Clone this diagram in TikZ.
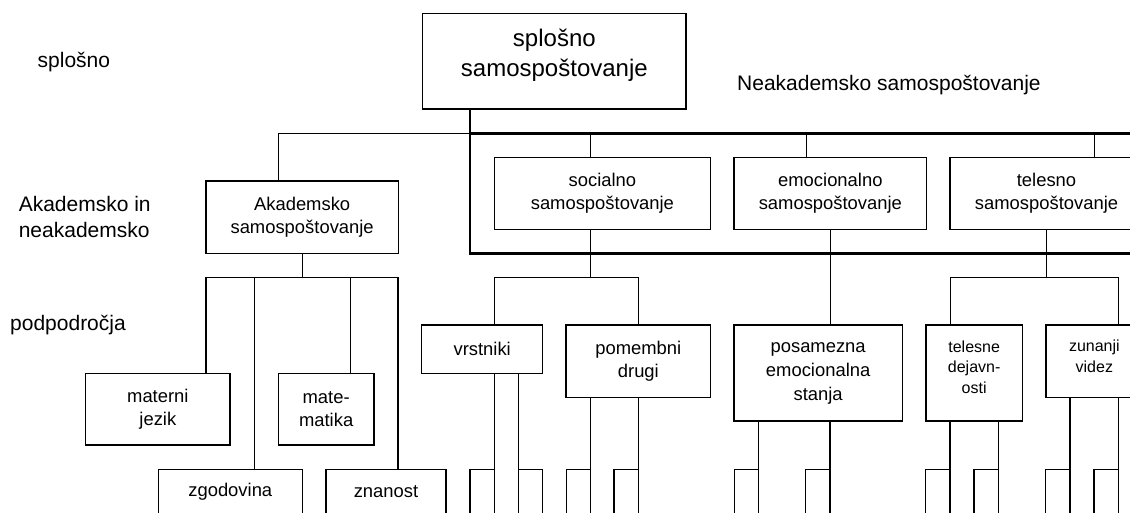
\documentclass[tikz,border=0pt]{standalone}
\usepackage{fontspec}
\setmainfont{Liberation Sans}
\newcommand\fsz[2]{\fontsize{#1}{#2}\selectfont}
\begin{document}
\begin{tikzpicture}[x=1pt,y=-1pt,
  wire/.style={line width=1.3pt},
  box/.style={draw, line width=1.3pt, inner sep=0pt, outer sep=0pt, align=center, font=\fsz{18.4}{23.4}},
  bigbox/.style={box, font=\fsz{24}{30}},
  smallbox/.style={box, font=\fsz{16}{20.6}},
  raised/.style={inner sep=0pt, align=center, yshift=6pt},
  frame/.style={draw, line width=2.8pt, inner sep=0pt, outer sep=0pt},
  stub/.style={draw, line width=1.3pt, inner sep=0pt, outer sep=0pt, minimum width=24.3pt, minimum height=80pt},
  lab/.style={inner sep=0pt, font=\fsz{21}{26.5}}]
\useasboundingbox (0,0) rectangle (1130,513);
\fill[white] (0,0) rectangle (1130,513);
\clip (0,0) rectangle (1130,513);

% level labels
\node[lab, anchor=west] (lv1) at (37.5,61.7) {splošno};
\node[lab, anchor=west, align=left] (lv2) at (18.6,217) {Akademsko in\\neakademsko};
\node[lab, anchor=west] (lv3) at (10,325) {podpodročja};
\node[lab, anchor=west] (neaklab) at (737,85) {Neakademsko samospoštovanje};

% general self-esteem
\node[bigbox, minimum width=263.3pt, minimum height=95.7pt,
      label={[raised, font=\fsz{24}{30}]center:splošno\\samospoštovanje}] (top) at (554.35,61.15) {};

% non-academic frame
\node[frame, minimum width=700pt, minimum height=120pt, anchor=north west] (nbox) at (470,133.3) {};

% second level
\node[box, minimum width=192.3pt, minimum height=72.3pt] (akad) at (302.15,217.15) {Akademsko\\samospoštovanje};
\node[box, minimum width=216.2pt, minimum height=72pt] (social) at (602.4,193.3) {socialno\\samospoštovanje};
\node[box, minimum width=192.7pt, minimum height=72pt] (emoc) at (830.35,193.3) {emocionalno\\samospoštovanje};
\node[box, minimum width=193pt, minimum height=72pt] (telesno) at (1046.5,193.3) {telesno\\samospoštovanje};

% sub-areas
\node[box, minimum width=144.3pt, minimum height=71.7pt] (materni) at (157.85,409.15) {materni\\jezik};
\node[box, minimum width=95.7pt, minimum height=71.7pt] (matem) at (326.15,409.15) {mate-\\matika};
\node[box, minimum width=144pt, minimum height=44.8pt] (zgod) at (230.3,491.7) {zgodovina};
\node[box, minimum width=120pt, minimum height=44.8pt] (znan) at (386,491.7) {znanost};
\node[box, minimum width=121pt, minimum height=48.3pt] (vrst) at (482.2,349.15) {vrstniki};
\node[box, minimum width=144.7pt, minimum height=72.3pt] (pomem) at (638.35,361.15) {pomembni\\drugi};
\node[box, minimum width=168.3pt, minimum height=96pt, font=\fsz{18.4}{24}] (posam) at (818.15,373) {posamezna\\emocionalna\\stanja};
\node[smallbox, minimum width=96.3pt, minimum height=96pt,
      label={[raised, font=\fsz{16}{20.6}]center:telesne\\dejavn-\\osti}] (teles) at (974.15,373) {};
\node[smallbox, minimum width=96.7pt, minimum height=72.3pt,
      label={[raised, yshift=-1pt, font=\fsz{16}{20.6}]center:zunanji\\videz}] (zunan) at (1094.35,361.15) {};

% lower boxes, cut at the page edge
\node[stub, anchor=north east] (v1) at (494.3,469.3) {};
\node[stub, anchor=north west] (v2) at (518.3,469.3) {};
\node[stub, anchor=north east] (p1) at (590.7,469.3) {};
\node[stub, anchor=north east] (p2) at (638.3,469.3) {};
\node[stub, anchor=north east] (e1) at (758.7,469.3) {};
\node[stub, anchor=north east] (e2) at (830,469.3) {};
\node[stub, anchor=north east] (t1) at (950,469.3) {};
\node[stub, anchor=north east] (t2) at (998.3,469.3) {};
\node[stub, anchor=north east] (z1) at (1070,469.3) {};
\node[stub, anchor=north east] (z2) at (1118.3,469.3) {};

% top level connectors
\coordinate (akin) at ([xshift=-24pt]akad.north);
\draw[wire] (top.south -| nbox.north west) -- (nbox.north west) -| (akin);
\coordinate (socin) at ([xshift=-12pt]social.north);
\coordinate (emoin) at ([xshift=-24pt]emoc.north);
\coordinate (telin) at ([xshift=48pt]telesno.north);
\draw[wire] (socin) -- (socin |- nbox.north);
\draw[wire] (emoin) -- (emoin |- nbox.north);
\draw[wire] (telin) -- (telin |- nbox.north);

% academic sub-areas
\coordinate (abus) at ([yshift=-24pt]akad.south);
\coordinate (mjin) at ([xshift=48pt]materni.north);
\coordinate (mtin) at ([xshift=24pt]matem.north);
\coordinate (zgin) at ([xshift=24pt]zgod.north);
\coordinate (znin) at ([xshift=12pt]znan.north);
\draw[wire] (akad.south) -- (abus);
\draw[wire] (mjin) |- (abus) -| (znin);
\draw[wire] (zgin) -- (zgin |- abus);
\draw[wire] (mtin) -- (mtin |- abus);

% social sub-areas
\coordinate (sout) at ([xshift=-12pt]social.south);
\coordinate (sbus) at ([yshift=-48pt]sout);
\coordinate (vin) at ([xshift=12pt]vrst.north);
\draw[wire] (sout) -- (sbus);
\draw[wire] (vin) |- (sbus) -| (pomem.north);

% emotional sub-area
\draw[wire] (emoc.south) -- (emoc.south |- posam.north);

% physical sub-areas
\coordinate (tbus) at ([yshift=-48pt]telesno.south);
\coordinate (tdin) at ([xshift=-24pt]teles.north);
\coordinate (zvin) at ([xshift=24pt]zunan.north);
\draw[wire] (telesno.south) -- (tbus);
\draw[wire] (tdin) |- (tbus) -| (zvin);

% links to the lower boxes
\draw[wire] (vrst.south -| v1.north east) -- (v1.north east);
\draw[wire] (vrst.south -| v2.north west) -- (v2.north west);
\draw[wire] (pomem.south -| p1.north east) -- (p1.north east);
\draw[wire] (pomem.south -| p2.north east) -- (p2.north east);
\draw[wire] (posam.south -| e1.north east) -- (e1.north east);
\draw[wire] (posam.south -| e2.north east) -- (e2.north east);
\draw[wire] (teles.south -| t1.north east) -- (t1.north east);
\draw[wire] (teles.south -| t2.north east) -- (t2.north east);
\draw[wire] (zunan.south -| z1.north east) -- (z1.north east);
\draw[wire] (zunan.south -| z2.north east) -- (z2.north east);
\end{tikzpicture}
\end{document}
